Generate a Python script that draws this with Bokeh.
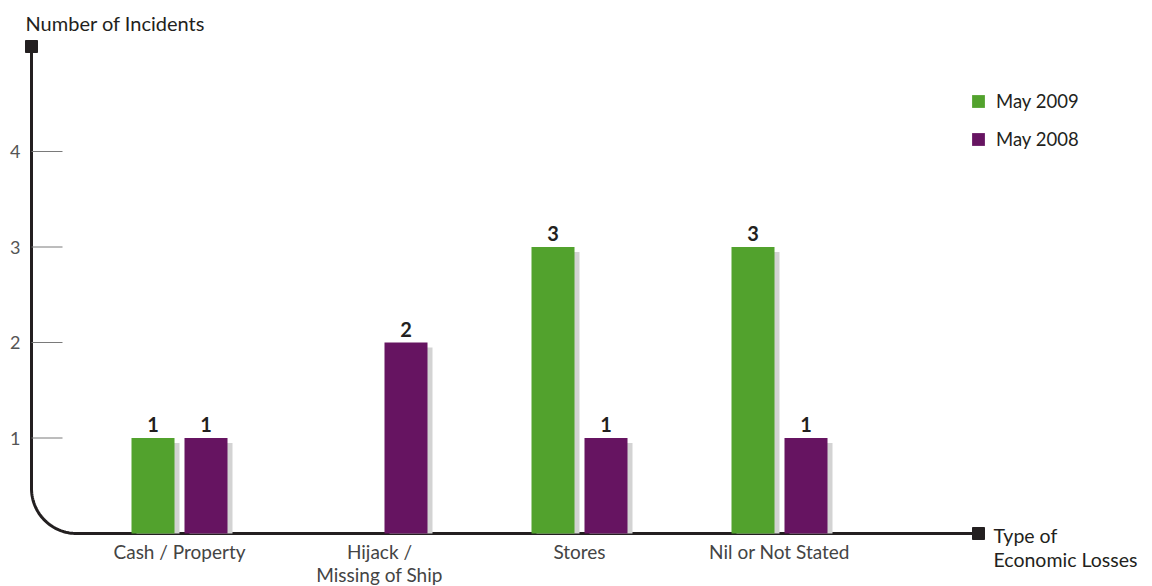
import numpy as np
from bokeh.plotting import figure
from bokeh.models import Range1d, Legend, LegendItem
from bokeh.core.properties import value
from bokeh.embed import file_html
from bokeh.resources import INLINE

categories = ["Cash / Property", "Hijack /\nMissing of Ship", "Stores", "Nil or Not Stated"]
may_2009 = [1, 0, 3, 3]
may_2008 = [1, 2, 1, 1]
y_ticks = [1, 2, 3, 4]
series_names = ["May 2009", "May 2008"]

GREEN = "#52a22d"
PURPLE = "#661461"
SHADOW = "#d3d3d3"
INK = "#231f20"
FONT = "Lato"

W, H = 1152, 586
# pixel geometry helpers (category spacing 200px, 95.5px per incident)
XPX, X0PX = 200.0, 179.0
YPX, Y0PX = 95.5, 533.0
def dx(px):
    return (px - X0PX) / XPX
def dy(py):
    return (Y0PX - py) / YPX

p = figure(width=W, height=H, output_backend="svg", toolbar_location=None,
           x_axis_type=None, y_axis_type=None, min_border=0,
           x_range=Range1d(dx(0), dx(W)), y_range=Range1d(dy(H), dy(0)))
p.outline_line_color = None
p.grid.visible = False
p.background_fill_color = "white"

# axis frame with rounded corner
ax_x = dx(31)
top_y = dy(46)
end_x = dx(978)
r_px = 45
cx, cy = dx(31 + r_px), dy(Y0PX - r_px)
rx, ry = r_px / XPX, r_px / YPX
t = np.linspace(0, np.pi / 2, 40)
xs = np.concatenate([[ax_x], cx - rx * np.cos(t), [end_x]])
ys = np.concatenate([[top_y], cy - ry * np.sin(t), [0]])
p.line(xs, ys, line_color=INK, line_width=3)
p.scatter([ax_x, end_x], [top_y, 0], marker="square", size=12, fill_color=INK, line_color=INK)

# y ticks and labels
p.segment(x0=[ax_x] * len(y_ticks), y0=y_ticks, x1=[dx(62)] * len(y_ticks), y1=y_ticks,
          line_color="#7a7a7a", line_width=1)
p.text(x=[dx(20)] * len(y_ticks), y=y_ticks, text=[str(v) for v in y_ticks],
       text_font=value(FONT), text_font_size="18px", text_color="#555555",
       text_align="right", text_baseline="middle")

# bars
idx = np.arange(len(categories))
off = 26.5 / XPX
bw = 43 / XPX
sh_dx = 5 / XPX
sh_dy = 5 / YPX
renderers = []
for vals, sign, col in [(may_2009, -1, GREEN), (may_2008, 1, PURPLE)]:
    v = np.array(vals, dtype=float)
    m = v > 0
    xc = idx[m] + sign * off
    p.vbar(x=xc + sh_dx, width=bw, top=v[m] - sh_dy, bottom=0, fill_color=SHADOW, line_color=None)
    r = p.vbar(x=xc, width=bw, top=v[m], bottom=0, fill_color=col, line_color=None)
    renderers.append(r)
    p.text(x=xc, y=v[m], text=[str(int(a)) for a in v[m]], text_font=value(FONT),
           text_font_style="bold", text_font_size="20px", text_color=INK,
           text_align="center", text_baseline="bottom", y_offset=-6)

# category labels
p.text(x=idx, y=[0] * len(categories), text=categories, text_font=value(FONT),
       text_font_size="19px", text_color="#444444", text_align="center",
       text_baseline="top", y_offset=6, text_line_height=1.0)

# axis titles
p.text(x=[dx(25)], y=[dy(22)], text=["Number of Incidents"], text_font=value(FONT),
       text_font_size="20px", text_color=INK, text_align="left", text_baseline="middle")
p.text(x=[dx(993)], y=[dy(523)], text=["Type of\nEconomic Losses"], text_font=value(FONT),
       text_font_size="19.5px", text_color=INK, text_align="left", text_baseline="top",
       text_line_height=1.05)

legend = Legend(items=[LegendItem(label=series_names[0], renderers=[renderers[0]]),
                       LegendItem(label=series_names[1], renderers=[renderers[1]])],
                location=(970, H - 93 - 54 - 2.5), orientation="vertical",
                glyph_width=16, glyph_height=16, label_height=16, spacing=16,
                padding=0, margin=0, label_standoff=10,
                label_text_font=FONT, label_text_font_size="18.5px", label_text_color=INK,
                border_line_color=None, background_fill_alpha=0)
p.add_layout(legend)

open("out.html", "w").write(file_html(p, INLINE))
